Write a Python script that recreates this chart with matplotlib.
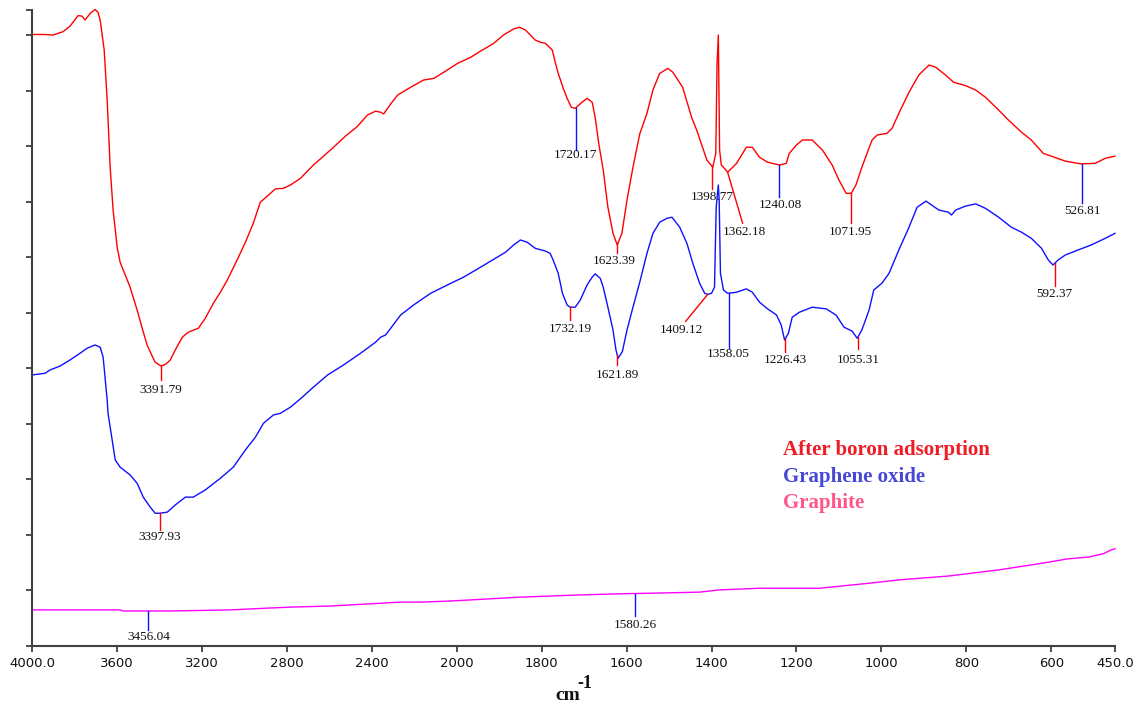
import numpy as np
import matplotlib
matplotlib.use('Agg')
import matplotlib.pyplot as plt
from matplotlib.ticker import NullLocator

# ---------------- data (wavenumber cm-1, transmittance in arbitrary units) ----------------
red_wn = [4000, 3939, 3901, 3877, 3854, 3821, 3783, 3764, 3750, 3726, 3703, 3689, 3679, 3660, 3646,
          3632, 3618, 3599, 3585, 3566, 3538, 3505, 3481, 3458, 3434, 3420, 3392, 3368, 3349, 3321,
          3292, 3264, 3217, 3184, 3146, 3113, 3080, 3028, 2995, 2958, 2925, 2892, 2854, 2816, 2783,
          2736, 2675, 2627, 2580, 2524, 2472, 2420, 2382, 2358, 2344, 2311, 2278, 2217, 2156, 2108,
          2061, 1998, 1967, 1944, 1913, 1890, 1866, 1852, 1838, 1815, 1803, 1791, 1775, 1768, 1761,
          1749, 1740, 1730, 1721, 1705, 1693, 1681, 1674, 1665, 1655, 1644, 1632, 1622, 1611, 1599,
          1585, 1569, 1552, 1538, 1522, 1503, 1491, 1468, 1447, 1435, 1411, 1397, 1390, 1387, 1384,
          1381, 1377, 1372, 1362, 1341, 1318, 1304, 1287, 1268, 1240, 1224, 1217, 1200, 1186, 1163,
          1139, 1116, 1100, 1083, 1071, 1060, 1046, 1022, 1010, 987, 975, 959, 935, 912, 888,
          872, 849, 830, 802, 778, 755, 724, 701, 670, 647, 619, 600, 567, 530, 497,
          473, 450]
red_t = [110.1, 110.1, 110.0, 110.3, 110.6, 111.6, 113.5, 113.4, 112.7, 113.9, 114.6, 114.1, 112.7, 107.3, 98.3,
         86.2, 78.5, 71.8, 69.1, 67.3, 64.6, 60.5, 57.2, 54.2, 52.2, 51.1, 50.4, 50.8, 51.5, 53.6,
         55.6, 56.5, 57.2, 59.0, 61.7, 63.7, 65.9, 70.0, 72.7, 76.1, 79.9, 81.0, 82.3, 82.4, 83.0,
         84.2, 86.6, 88.2, 89.8, 91.8, 93.4, 95.6, 96.3, 96.1, 95.8, 97.6, 99.2, 100.6, 101.9, 102.2,
         103.3, 104.9, 106.0, 107.1, 108.5, 110.0, 111.1, 111.4, 110.9, 109.1, 108.7, 108.5, 107.3, 105.1, 103.1,
         100.4, 98.6, 97.0, 96.8, 97.9, 98.6, 97.9, 95.2, 90.2, 85.7, 79.0, 74.3, 72.2, 74.3, 80.3,
         86.2, 92.2, 95.9, 100.1, 103.1, 104.0, 103.3, 100.6, 95.2, 92.9, 87.5, 86.2, 88.7, 104.9, 110.0,
         89.3, 86.6, 86.2, 85.3, 86.9, 89.8, 89.8, 88.0, 87.1, 86.6, 86.9, 88.7, 90.2, 91.1, 91.1,
         89.3, 86.6, 83.9, 81.5, 81.5, 83.0, 86.2, 91.1, 92.0, 92.3, 93.2, 95.9, 99.7, 102.8, 104.6,
         104.2, 102.8, 101.5, 100.9, 100.1, 98.8, 96.5, 94.7, 92.5, 91.1, 88.7, 88.2, 87.3, 86.8, 86.9,
         87.8, 88.2]

blue_wn = [4000, 3939, 3915, 3868, 3821, 3774, 3741, 3703, 3679, 3665, 3646, 3642, 3608, 3585, 3538,
           3505, 3476, 3443, 3420, 3398, 3363, 3325, 3278, 3241, 3184, 3113, 3052, 2995, 2948, 2910,
           2863, 2830, 2783, 2736, 2675, 2608, 2533, 2453, 2382, 2358, 2335, 2311, 2264, 2203, 2123,
           2028, 1984, 1944, 1909, 1885, 1866, 1850, 1834, 1815, 1791, 1780, 1773, 1761, 1751, 1740,
           1733, 1721, 1709, 1693, 1681, 1674, 1662, 1655, 1644, 1632, 1625, 1620, 1610, 1599, 1585,
           1569, 1552, 1538, 1522, 1505, 1493, 1475, 1458, 1444, 1428, 1416, 1409, 1400, 1393, 1389,
           1384, 1382, 1379, 1372, 1362, 1341, 1318, 1304, 1287, 1268, 1247, 1236, 1228, 1219, 1210,
           1193, 1163, 1130, 1107, 1088, 1069, 1057, 1046, 1029, 1018, 999, 982, 959, 935, 916,
           895, 865, 842, 835, 825, 802, 778, 755, 724, 694, 670, 647, 623, 607, 596,
           584, 567, 537, 506, 473, 450]
blue_t = [48.8, 49.1, 49.7, 50.4, 51.5, 52.7, 53.6, 54.2, 53.8, 52.0, 44.3, 41.9, 33.5, 32.2, 30.8,
          29.3, 26.8, 25.0, 23.9, 23.9, 24.1, 25.4, 26.8, 26.8, 28.1, 30.2, 32.2, 35.3, 37.6, 40.1,
          41.6, 41.9, 43.0, 44.5, 46.6, 48.8, 50.6, 52.7, 54.7, 55.6, 56.0, 57.2, 59.6, 61.4, 63.5,
          65.3, 66.4, 68.2, 69.8, 70.9, 72.2, 73.1, 72.7, 71.6, 71.1, 70.7, 69.5, 67.1, 63.5, 61.4,
          61.0, 61.0, 62.3, 65.0, 66.4, 67.0, 66.2, 64.6, 61.0, 56.9, 53.3, 51.8, 53.0, 56.9, 61.0,
          65.5, 70.7, 74.3, 76.3, 77.0, 77.2, 75.4, 72.5, 68.9, 65.3, 63.5, 63.3, 63.5, 64.6, 79.0,
          83.0, 80.3, 67.1, 64.1, 63.5, 63.7, 64.3, 63.7, 61.9, 60.7, 59.6, 57.8, 55.1, 56.3, 59.2,
          60.1, 61.0, 60.7, 59.6, 57.4, 56.7, 55.4, 56.9, 60.5, 64.1, 65.3, 67.1, 71.3, 75.4, 79.0,
          80.1, 78.5, 78.1, 77.6, 78.5, 79.2, 79.6, 78.8, 77.2, 75.4, 74.5, 73.4, 71.6, 69.5, 68.6,
          69.5, 70.4, 71.3, 72.2, 73.4, 74.3]

graphite_wn = [4000, 3585, 3571, 3349, 3066, 2958, 2783, 2594, 2406, 2264, 2170, 2028, 1920, 1850,
               1709, 1615, 1545, 1428, 1381, 1287, 1146, 1029, 959, 842, 724, 630, 560, 513, 478, 459, 450]
graphite_t = [6.5, 6.5, 6.3, 6.3, 6.5, 6.7, 7.0, 7.2, 7.6, 7.9, 7.9, 8.1, 8.5, 8.8,
              9.2, 9.4, 9.5, 9.7, 10.1, 10.4, 10.4, 11.3, 11.9, 12.6, 13.7, 14.8, 15.7, 16.0, 16.6, 17.3, 17.5]

red_peaks = [3391.79, 1720.17, 1623.39, 1398.77, 1362.18, 1240.08, 1071.95, 526.81]
blue_peaks = [3397.93, 1732.19, 1621.89, 1409.12, 1358.05, 1226.43, 1055.31, 592.37]
graphite_peaks = [3456.04, 1580.26]

xticks = [4000, 3600, 3200, 2800, 2400, 2000, 1800, 1600, 1400, 1200, 1000, 800, 600, 450]
xtick_labels = ['4000.0', '3600', '3200', '2800', '2400', '2000', '1800', '1600', '1400',
                '1200', '1000', '800', '600', '450.0']
legend_labels = ['After boron adsorption', 'Graphene oxide', 'Graphite']

# ---------------- styles ----------------
RED = '#ff0000'
BLUE = '#1010ff'
MAG = '#ff00ff'
AXC = '#404040'

# marker style per peak: (marker colour, dx px, line length px, label dx px, label offset px)
red_style = [(RED, 0, 14, 0, 24), (BLUE, 0, 42, 0, 47), (RED, 0, 10, -2, 18), (RED, 0, 23, 0, 31),
             (RED, 15, 51, 17, 60), (BLUE, 0, 32, 1, 40), (RED, 0, 30, -1, 39), (BLUE, 0, 39, 0, 47)]
blue_style = [(RED, 0, 17, 0, 24), (RED, 0, 13, 0, 22), (RED, 0, 10, 0, 20), (RED, -22, 27, -26, 36),
              (BLUE, 0, 55, -1, 61), (RED, 0, 13, 0, 21), (RED, 0, 12, 0, 23), (RED, 0, 23, 0, 31)]
graphite_style = [(BLUE, 0, 19, 1, 26), (BLUE, 0, 22, 0, 31)]

fig = plt.figure(figsize=(11.42, 7.05), dpi=100)
ax = fig.add_axes([32 / 1142, 59 / 705, 1083 / 1142, 636.5 / 705])


def fwd(w):
    w = np.asarray(w, dtype=float)
    return np.where(w > 2000, 2000 + (w - 2000) / 2.0, w)


def inv(p):
    p = np.asarray(p, dtype=float)
    return np.where(p > 2000, 2000 + (p - 2000) * 2.0, p)


ax.set_xscale('function', functions=(fwd, inv))
ax.set_xlim(4000, 450)
ax.set_ylim(0, 114.6)

ax.plot(red_wn, red_t, color=RED, lw=1.0, clip_on=False)
ax.plot(blue_wn, blue_t, color=BLUE, lw=1.0, clip_on=False)
ax.plot(graphite_wn, graphite_t, color=MAG, lw=1.0, clip_on=False)

ax.set_xticks(xticks)
ax.set_xticklabels(xtick_labels)
ax.xaxis.set_minor_locator(NullLocator())
ax.set_yticks(list(np.arange(0, 111, 10)) + [114.6])
ax.yaxis.set_minor_locator(NullLocator())
ax.tick_params(axis='x', direction='out', length=4, width=1.3, color=AXC, pad=4,
               labelsize=9.5, labelcolor='#111111')
ax.tick_params(axis='y', direction='out', length=4, width=1.3, color=AXC, labelleft=False)
for s in ['top', 'right']:
    ax.spines[s].set_visible(False)
for s in ['left', 'bottom']:
    ax.spines[s].set_linewidth(1.5)
    ax.spines[s].set_color(AXC)

trans = ax.transData
itrans = trans.inverted()


def annotate(wn, t, peaks, styles):
    wn_a = np.asarray(wn, float)[::-1]
    t_a = np.asarray(t, float)[::-1]
    for p, (col, dx, ln, ldx, lo) in zip(peaks, styles):
        y0 = float(np.interp(p, wn_a, t_a))
        x0d, y0d = trans.transform((p, y0))
        x1, y1 = itrans.transform((x0d + dx, y0d - ln))
        ax.plot([p, x1], [y0, y1], color=col, lw=1.0, clip_on=False)
        lx, ly = itrans.transform((x0d + ldx, y0d - lo))
        ax.text(lx, ly, '%.2f' % p, ha='center', va='center', fontsize=9.5,
                family='Liberation Serif', color='#111111')


annotate(red_wn, red_t, red_peaks, red_style)
annotate(blue_wn, blue_t, blue_peaks, blue_style)
annotate(graphite_wn, graphite_t, graphite_peaks, graphite_style)

leg_colors = ['#ee1c24', '#4848d4', '#ff5588']
leg_y = [0.3079, 0.2655, 0.2247]
for lab, c, y in zip(legend_labels, leg_colors, leg_y):
    ax.text(0.6934, y, lab, transform=ax.transAxes, ha='left', va='center',
            fontsize=15, fontweight='bold', family='Liberation Serif', color=c)

fig.text(568 / 1142, 1 - 695 / 705, 'cm', ha='center', va='center', fontsize=14,
         fontweight='bold', family='Liberation Serif', color='#111111')
fig.text(577 / 1142, 1 - 683 / 705, '-1', ha='left', va='center', fontsize=13,
         fontweight='bold', family='Liberation Serif', color='#111111')

fig.savefig('out.png', dpi=100)
